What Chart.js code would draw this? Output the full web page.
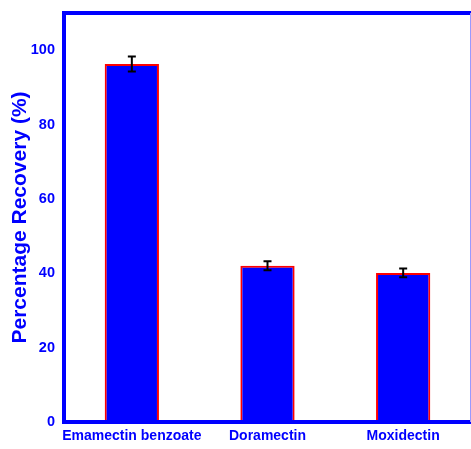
<!DOCTYPE html>
<html>
<head>
<meta charset="utf-8">
<script src="https://cdn.jsdelivr.net/npm/chart.js@4.4.1/dist/chart.umd.min.js"></script>
<style>
  html, body { margin: 0; padding: 0; background: #fff; }
  #wrap { width: 471px; height: 449px; }
</style>
</head>
<body>
<div id="wrap"><canvas id="recoveryChart" width="471" height="449"></canvas></div>
<script>
// values
const compounds = ["Emamectin benzoate", "Doramectin", "Moxidectin"];
const recovery = [96.3, 42.0, 40.1];
const recoveryErr = [2.0, 1.2, 1.2];
const yTicks = [0, 20, 40, 60, 80, 100];

const BLUE = "#0000ff";
const RED = "#ff0000";

// thick blue frame round the plot area
const framePlugin = {
    id: "frame",
    afterDraw(chart) {
        const { ctx, chartArea: a } = chart;
        ctx.save();
        ctx.strokeStyle = BLUE;
        ctx.lineWidth = 4;
        ctx.beginPath();
        ctx.moveTo(a.right + 2, a.top);
        ctx.lineTo(a.left, a.top);
        ctx.lineTo(a.left, a.bottom);
        ctx.lineTo(a.right + 2, a.bottom);
        ctx.stroke();
        ctx.lineWidth = 1;
        ctx.strokeStyle = "#9999ff";
        ctx.beginPath();
        ctx.moveTo(a.right - 0.5, a.top);
        ctx.lineTo(a.right - 0.5, a.bottom);
        ctx.stroke();
        ctx.restore();
    }
};

// error bars from recoveryErr, placed with the chart's own scales
const errorBarPlugin = {
    id: "errorBars",
    afterDatasetsDraw(chart) {
        const { ctx } = chart;
        const yScale = chart.scales.y;
        const meta = chart.getDatasetMeta(0);
        ctx.save();
        ctx.strokeStyle = "#000";
        ctx.lineWidth = 2;
        meta.data.forEach((bar, i) => {
            const x = bar.x;
            const hi = yScale.getPixelForValue(recovery[i] + recoveryErr[i]);
            const lo = yScale.getPixelForValue(recovery[i] - recoveryErr[i]);
            const cap = 4;
            ctx.beginPath();
            ctx.moveTo(x, hi); ctx.lineTo(x, lo);
            ctx.moveTo(x - cap, hi); ctx.lineTo(x + cap, hi);
            ctx.moveTo(x - cap, lo); ctx.lineTo(x + cap, lo);
            ctx.stroke();
        });
        ctx.restore();
    }
};

const ctx = document.getElementById("recoveryChart").getContext("2d");
new Chart(ctx, {
    type: "bar",
    data: {
        labels: compounds,
        datasets: [{
            label: "Percentage Recovery",
            data: recovery,
            backgroundColor: BLUE,
            borderColor: RED,
            borderWidth: 2,
            categoryPercentage: 1.0,
            barPercentage: 0.4
        }]
    },
    options: {
        responsive: false,
        animation: false,
        layout: { padding: { top: 13, right: 0, left: 0, bottom: 0 } },
        plugins: {
            legend: { display: false },
            tooltip: { enabled: false }
        },
        scales: {
            x: {
                grid: { display: false, drawTicks: false },
                border: { display: false },
                ticks: {
                    color: BLUE,
                    font: { family: "Liberation Sans, Arial, sans-serif", size: 14, weight: "bold" },
                    padding: 6,
                    autoSkip: false,
                    maxRotation: 0
                },
                afterFit: s => { s.height = 27; s.paddingLeft = 0; s.paddingRight = 0; }
            },
            y: {
                min: 0,
                max: 110,
                afterBuildTicks: s => { s.ticks = yTicks.map(v => ({ value: v })); },
                grid: { display: false, drawTicks: false },
                border: { display: false },
                ticks: {
                    color: BLUE,
                    font: { family: "Liberation Sans, Arial, sans-serif", size: 14.5, weight: "bold" },
                    padding: 9
                },
                title: {
                    display: true,
                    text: "Percentage Recovery (%)",
                    color: BLUE,
                    font: { family: "Liberation Sans, Arial, sans-serif", size: 21, weight: "bold" },
                    padding: { top: 8, bottom: 0 }
                },
                afterFit: s => { s.width = 64; s.paddingTop = 0; s.paddingBottom = 0; }
            }
        }
    },
    plugins: [framePlugin, errorBarPlugin]
});
</script>
</body>
</html>
